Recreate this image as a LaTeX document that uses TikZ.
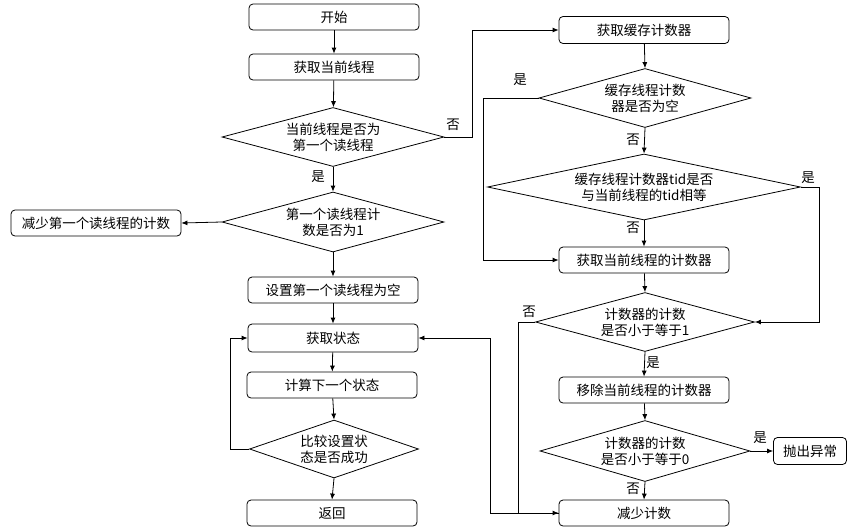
\documentclass[tikz,border=0pt]{standalone}
\usepackage{fontspec}
\setmainfont{Noto Sans CJK SC}
\usetikzlibrary{shapes.geometric,arrows.meta}
\begin{document}
\begin{tikzpicture}[x=1pt,y=-1pt,
  font=\fontsize{13.5}{16}\selectfont,
  line width=0.8pt,
  stepbox/.style={draw, rounded corners=4pt, minimum width=170pt, minimum height=26pt, inner sep=0pt},
  dia/.style={draw, diamond, inner sep=0pt, align=center},
  arr/.style={-{Latex[length=6pt,width=5pt]}},
  lbl/.style={inner sep=0pt}
]
\useasboundingbox (0,0) rectangle (855,531);
% left column
\node[stepbox] (start) at (334,17) {开始};
\node[stepbox] (cur) at (334,67) {获取当前线程};
\node[dia, minimum width=222pt, minimum height=59pt, aspect=3.76] (d1) at (333,137) {当前线程是否为\\第一个读线程};
\node[dia, minimum width=222pt, minimum height=60pt, aspect=3.7] (d2) at (333,222) {第一个读线程计\\数是否为1};
\node[stepbox] (dec1) at (96,223) {减少第一个读线程的计数};
\node[stepbox] (setnull) at (333,290) {设置第一个读线程为空};
\node[stepbox, minimum height=28pt] (state) at (333,338) {获取状态};
\node[stepbox] (calc) at (332,385) {计算下一个状态};
\node[dia, minimum width=169pt, minimum height=58pt, aspect=2.9] (cas) at (334,449) {比较设置状\\态是否成功};
\node[stepbox] (ret) at (332,513) {返回};
% right column
\node[stepbox, minimum height=27pt] (cache) at (644,30) {获取缓存计数器};
\node[dia, minimum width=212pt, minimum height=59pt, aspect=3.6] (dnull) at (645,98) {缓存线程计数\\器是否为空};
\node[dia, minimum width=313pt, minimum height=66pt, aspect=4.74] (dtid) at (644,187) {缓存线程计数器tid是否\\与当前线程的tid相等};
\node[stepbox] (getcnt) at (644,260) {获取当前线程的计数器};
\node[dia, minimum width=219pt, minimum height=59pt, aspect=3.7] (dle1) at (645,322) {计数器的计数\\是否小于等于1};
\node[stepbox] (remove) at (644,390) {移除当前线程的计数器};
\node[dia, minimum width=210pt, minimum height=61pt, aspect=3.44] (dle0) at (645,451) {计数器的计数\\是否小于等于0};
\node[stepbox, minimum width=73pt, minimum height=27pt] (throw) at (810,451) {抛出异常};
\node[stepbox] (dec) at (644,513) {减少计数};
% coordinates
\coordinate (c1) at (472,137);
\coordinate (c2) at (483,98);
\coordinate (c3) at (819,187);
\coordinate (c4) at (518,322);
\coordinate (c5) at (490,513);
\coordinate (c6) at (230,449);
% connectors
\draw[arr] (start) -- (cur);
\draw[arr] (cur) -- (d1);
\draw[arr] (d1.south) -- (d2.north);
\draw[arr] (d2.west) -- (dec1.east);
\draw[arr] (d2.south) -- (setnull.north);
\draw[arr] (setnull) -- (state);
\draw[arr] (state) -- (calc);
\draw[arr] (calc) -- (cas.north);
\draw[arr] (cas.south) -- (ret.north);
\draw[arr] (cas.west) -- (c6) |- (state.west);
\draw[arr] (d1.east) -- (c1) |- (cache.west);
\draw[arr] (cache) -- (dnull.north);
\draw[arr] (dnull.west) -- (c2) |- (getcnt.west);
\draw[arr] (dnull.south) -- (dtid.north);
\draw[arr] (dtid.south) -- (getcnt.north);
\draw[arr] (dtid.east) -- (c3) |- (dle1.east);
\draw[arr] (getcnt) -- (dle1.north);
\draw[arr] (dle1.west) -- (c4) |- (dec.west);
\draw[arr] (dle1.south) -- (remove.north);
\draw[arr] (remove) -- (dle0.north);
\draw[arr] (dle0.east) -- (throw.west);
\draw[arr] (dle0.south) -- (dec.north);
\draw[arr] (dec.west) -- (c5) |- (state.east);
% labels
\node[lbl] (l1) at (453,125) {否};
\node[lbl] (l2) at (318,177) {是};
\node[lbl] (l3) at (520,80) {是};
\node[lbl] (l4) at (633,140) {否};
\node[lbl] (l5) at (808,178) {是};
\node[lbl] (l6) at (633,228) {否};
\node[lbl] (l7) at (529,312) {否};
\node[lbl] (l8) at (653,363) {是};
\node[lbl] (l9) at (760,438) {是};
\node[lbl] (l10) at (633,489) {否};
\end{tikzpicture}
\end{document}
